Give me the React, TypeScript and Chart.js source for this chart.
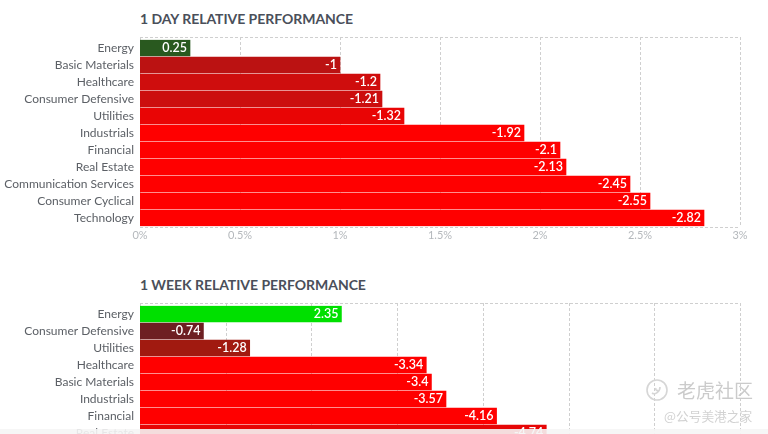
import React, { useEffect, useRef } from "react";
import { Chart, registerables } from "chart.js";

Chart.register(...registerables);

const dayCategories = ["Energy", "Basic Materials", "Healthcare", "Consumer Defensive", "Utilities", "Industrials", "Financial", "Real Estate", "Communication Services", "Consumer Cyclical", "Technology"];
const dayValues = [0.25, -1, -1.2, -1.21, -1.32, -1.92, -2.1, -2.13, -2.45, -2.55, -2.82];
const dayColors = ["#29591f", "#bb1212", "#cf0d0d", "#cc0e0e", "#e90505", "#ff0000", "#ff0000", "#ff0000", "#ff0000", "#ff0000", "#ff0000"];

const weekCategories = ["Energy", "Consumer Defensive", "Utilities", "Healthcare", "Basic Materials", "Industrials", "Financial", "Real Estate"];
const weekValues = [2.35, -0.74, -1.28, -3.34, -3.4, -3.57, -4.16, -4.74];
const weekColors = ["#00e000", "#6e1f22", "#a11a10", "#ff0000", "#ff0000", "#ff0000", "#ff0000", "#e60606"];

const FONT = "Lato, 'Open Sans', sans-serif";
const GRID = "#cfcfcf";

type PanelProps = {
  categories: string[];
  values: number[];
  colors: string[];
  maxValue: number;
  top: number;
  height: number;
  paddingTop: number;
};

function makePanelPlugin(values: number[]) {
  return {
    id: "panelMarks",
    beforeDatasetsDraw(chart: any) {
      const { ctx, chartArea, scales } = chart;
      const x = scales.x;
      const top = chartArea.top - 2.5;
      const bottom = chartArea.bottom + 0.5;
      ctx.save();
      ctx.strokeStyle = GRID;
      ctx.lineWidth = 1;
      ctx.setLineDash([3, 2]);
      x.ticks.forEach((_: any, i: number) => {
        const px = Math.round(x.getPixelForTick(i)) + 0.5;
        ctx.beginPath();
        ctx.moveTo(px, top);
        ctx.lineTo(px, bottom);
        ctx.stroke();
      });
      [Math.round(top) + 0.5, Math.round(bottom) + 0.5].forEach((py) => {
        ctx.beginPath();
        ctx.moveTo(chartArea.left, py);
        ctx.lineTo(chartArea.right, py);
        ctx.stroke();
      });
      ctx.restore();
    },
    afterDatasetsDraw(chart: any) {
      const { ctx } = chart;
      const meta = chart.getDatasetMeta(0);
      ctx.save();
      ctx.font = `600 12.5px ${FONT}`;
      ctx.fillStyle = "#ffffff";
      ctx.textAlign = "right";
      ctx.textBaseline = "middle";
      meta.data.forEach((bar: any, i: number) => {
        ctx.fillText(String(values[i]), bar.x - 3, bar.y);
      });
      ctx.restore();
    },
  };
}

function Panel({ categories, values, colors, maxValue, top, height, paddingTop }: PanelProps) {
  const ref = useRef<HTMLCanvasElement | null>(null);
  useEffect(() => {
    if (!ref.current) return;
    const chart = new Chart(ref.current, {
      type: "bar",
      data: {
        labels: categories,
        datasets: [
          {
            // bars show the size of the move, the label keeps its sign
            data: values.map((v) => Math.abs(v)),
            backgroundColor: colors,
            barThickness: 16,
            borderWidth: 0,
          },
        ],
      },
      options: {
        indexAxis: "y",
        responsive: false,
        animation: false,
        layout: { padding: { top: paddingTop, right: 28, left: 0, bottom: 0 } },
        plugins: { legend: { display: false }, title: { display: false }, tooltip: { enabled: false } },
        scales: {
          x: {
            min: 0,
            max: maxValue,
            grid: { display: false, drawTicks: false, tickLength: 0 },
            border: { display: false },
            ticks: {
              stepSize: maxValue === 3 ? 0.5 : 1,
              color: "#b4b8bc",
              font: { family: FONT, size: 11 },
              padding: 2,
              maxRotation: 0,
              callback: (v: any) => `${v}%`,
            },
            afterFit: (s: any) => {
              s.height = 23.5;
            },
          },
          y: {
            grid: { display: false, drawTicks: false, tickLength: 0 },
            border: { display: false },
            ticks: {
              color: "#5c6066",
              font: { family: FONT, size: 12 },
              padding: 6,
              autoSkip: false,
            },
            afterFit: (s: any) => {
              s.width = 140;
            },
          },
        },
      },
      plugins: [makePanelPlugin(values)],
    } as any);
    return () => chart.destroy();
  }, []);
  return <canvas ref={ref} width={768} height={height} style={{ position: "absolute", left: 0, top, display: "block" }} />;
}

const titleStyle: React.CSSProperties = {
  position: "absolute",
  left: 140,
  fontFamily: FONT,
  fontWeight: 700,
  fontSize: 14,
  letterSpacing: -0.04,
  color: "#4a4f5a",
  whiteSpace: "nowrap",
  lineHeight: "16px",
};

export default function App() {
  return (
    <div style={{ position: "fixed", left: 0, top: 0, width: 768, height: 434, overflow: "hidden", background: "#fff" }}>
      <div style={{ ...titleStyle, top: 11 }}>1 DAY RELATIVE PERFORMANCE</div>
      <Panel categories={dayCategories} values={dayValues} colors={dayColors} maxValue={3} top={0} height={250} paddingTop={39.5} />
      <div style={{ ...titleStyle, top: 277 }}>1 WEEK RELATIVE PERFORMANCE</div>
      <Panel categories={weekCategories} values={weekValues} colors={weekColors} maxValue={7} top={265} height={200} paddingTop={40.5} />
      <div style={{ position: "absolute", left: 677, top: 376, fontFamily: "'Noto Sans CJK SC'", fontSize: 19, lineHeight: "28px", color: "#cbcbcb", whiteSpace: "nowrap" }}>老虎社区</div>
      <div style={{ position: "absolute", left: 664, top: 407, fontFamily: "'Noto Sans CJK SC'", fontSize: 12.7, lineHeight: "18px", color: "#d2d2d2", whiteSpace: "nowrap" }}>@公号美港之家</div>
      <svg width={24} height={24} style={{ position: "absolute", left: 645, top: 378 }}>
        <circle cx={12} cy={12} r={10} fill="none" stroke="#d6d6d6" strokeWidth={1.6} />
        <path d="M7 15 C10 17 15 14 15 9 M11 10 C10 12 12 13 13 12" fill="none" stroke="#d6d6d6" strokeWidth={1.6} />
      </svg>
      <div style={{ position: "absolute", left: 0, top: 429, width: 768, height: 5, background: "rgba(245,245,245,0.9)" }} />
    </div>
  );
}
